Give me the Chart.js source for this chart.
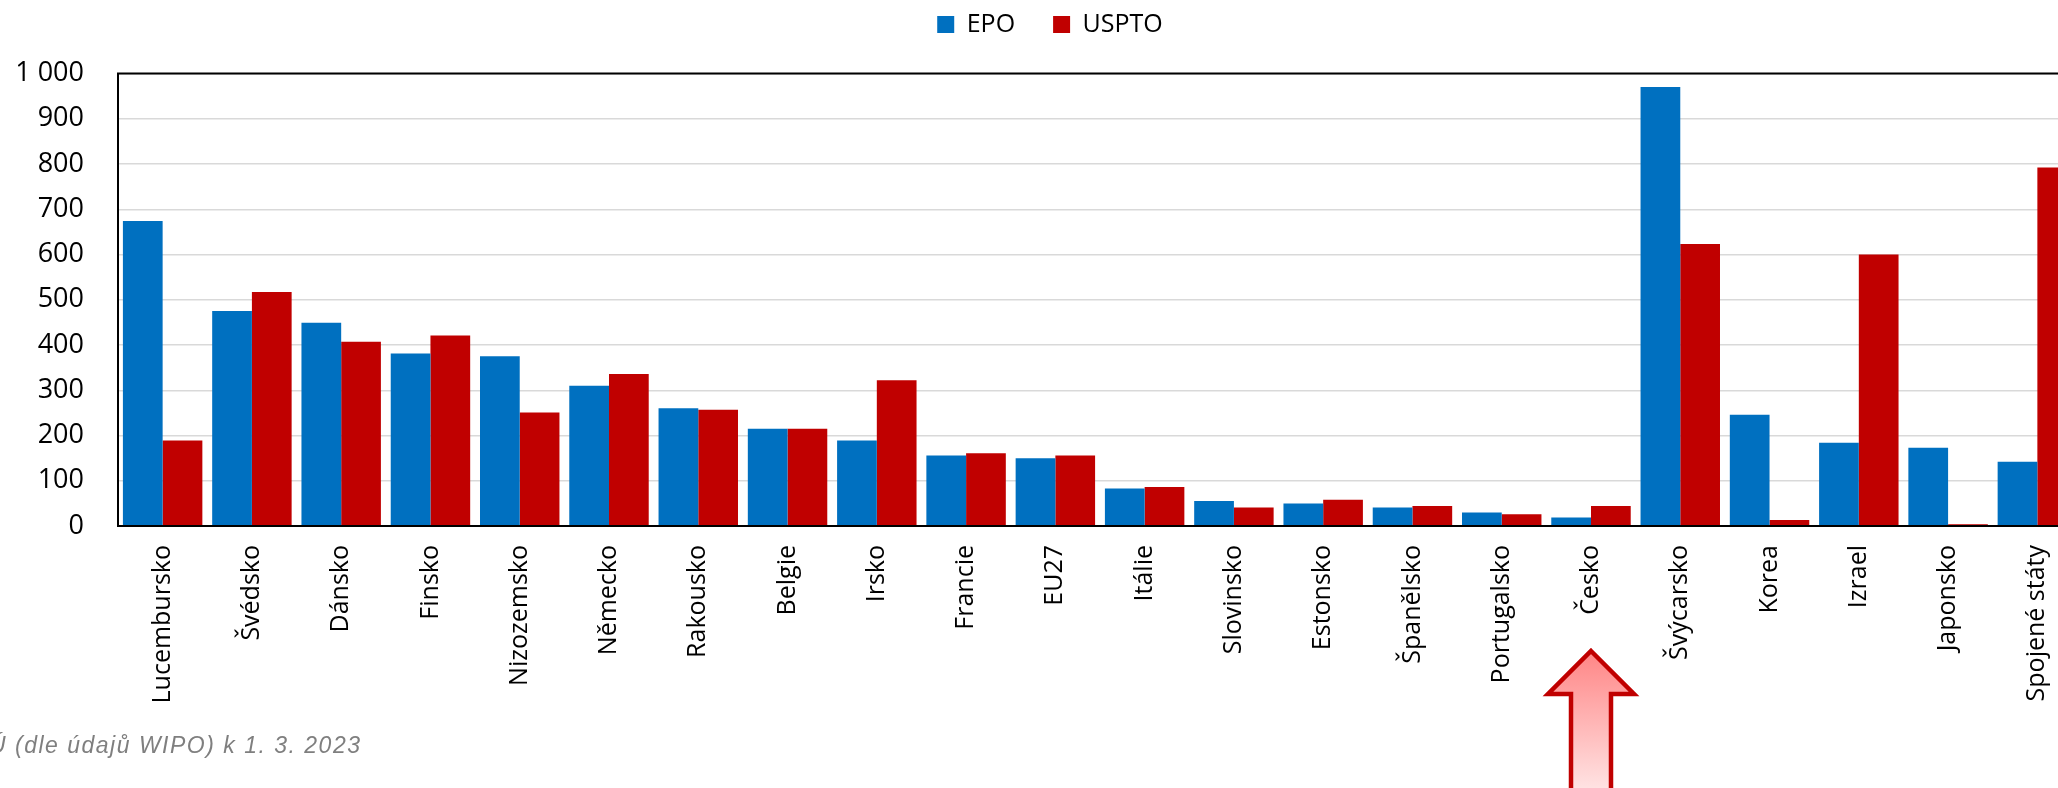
<!DOCTYPE html>
<html>
<head>
<meta charset="utf-8">
<script src="https://cdn.jsdelivr.net/npm/chart.js@4.4.0/dist/chart.umd.min.js"></script>
<style>
  html, body { margin: 0; padding: 0; width: 2058px; height: 788px; overflow: hidden; background: #fff; }
  #myChart { position: absolute; left: 0; top: 0; }
</style>
</head>
<body>
<canvas id="myChart" width="2098" height="788" style="width:2098px;height:788px"></canvas>
<script>
const countries = ['Lucembursko', 'Švédsko', 'Dánsko', 'Finsko', 'Nizozemsko', 'Německo', 'Rakousko', 'Belgie', 'Irsko', 'Francie', 'EU27', 'Itálie', 'Slovinsko', 'Estonsko', 'Španělsko', 'Portugalsko', 'Česko', 'Švýcarsko', 'Korea', 'Izrael', 'Japonsko', 'Spojené státy'];
const epo = [674, 475, 449, 381, 375, 310, 260, 215, 189, 156, 150, 83, 55, 50, 41, 30, 19, 970, 246, 184, 173, 142];
const uspto = [189, 517, 407, 421, 251, 336, 257, 215, 322, 161, 156, 86, 41, 58, 44, 26, 44, 623, 13, 600, 4, 792];
const yTicks = [0, 100, 200, 300, 400, 500, 600, 700, 800, 900, 1000];
const highlighted = 'Česko';
const sourceNote = 'Ú (dle údajů WIPO) k 1. 3. 2023';

Chart.defaults.font.family = '"Open Sans", "Noto Sans", sans-serif';
Chart.defaults.color = '#000';

// legend box gets a fixed height so the plot starts where it does in the picture
const legendHeight = {
  id: 'legendHeight',
  beforeInit(chart) {
    const fit = chart.legend.fit;
    chart.legend.fit = function () {
      fit.bind(chart.legend)();
      this.height = 99.5;
    };
  }
};

// frame round the plot, arrow under Česko, source line
const extras = {
  id: 'extras',
  afterDraw(chart) {
    const ctx = chart.ctx;
    const a = chart.chartArea;
    ctx.save();
    ctx.strokeStyle = '#000';
    ctx.lineWidth = 2;
    ctx.strokeRect(a.left, a.top, a.right - a.left, a.bottom - a.top);

    const x = chart.scales.x.getPixelForValue(countries.indexOf(highlighted));
    const tip = a.bottom + 125;
    const base = a.bottom + 168;
    const end = a.bottom + 300;
    const head = 43, shaft = 20;
    const grad = ctx.createLinearGradient(0, tip, 0, 788);
    grad.addColorStop(0, '#ff8585');
    grad.addColorStop(1, '#ffe2e2');
    ctx.beginPath();
    ctx.moveTo(x, tip);
    ctx.lineTo(x + head, base);
    ctx.lineTo(x + shaft, base);
    ctx.lineTo(x + shaft, end);
    ctx.lineTo(x - shaft, end);
    ctx.lineTo(x - shaft, base);
    ctx.lineTo(x - head, base);
    ctx.closePath();
    ctx.fillStyle = grad;
    ctx.fill();
    ctx.strokeStyle = '#c00000';
    ctx.lineWidth = 4.5;
    ctx.stroke();

    ctx.font = 'italic 23px "Liberation Sans", Arial, sans-serif';
    ctx.letterSpacing = '1.5px';
    ctx.fillStyle = '#7f7f7f';
    ctx.textAlign = 'left';
    ctx.textBaseline = 'alphabetic';
    ctx.fillText(sourceNote, -11, 753);
    ctx.restore();
  }
};

const myChart = new Chart(document.getElementById('myChart'), {
  type: 'bar',
  data: {
    labels: countries,
    datasets: [
      { label: 'EPO', data: epo, backgroundColor: '#0070c0' },
      { label: 'USPTO', data: uspto, backgroundColor: '#c00000' }
    ]
  },
  options: {
    responsive: false,
    animation: false,
    layout: { padding: { top: -26, right: 16, bottom: 0, left: 18 } },
    datasets: { bar: { categoryPercentage: 0.89, barPercentage: 1.0 } },
    plugins: {
      legend: {
        position: 'top',
        labels: { boxWidth: 17, boxHeight: 17, padding: 38, font: { size: 25 }, color: '#000' }
      },
      tooltip: { enabled: false }
    },
    scales: {
      x: {
        grid: { display: false, drawTicks: false },
        border: { display: true, color: '#000', width: 2 },
        ticks: { minRotation: 90, maxRotation: 90, autoSkip: false, padding: 19, font: { size: 25 }, color: '#000' },
        afterFit(scale) { scale.height = 262; }
      },
      y: {
        min: 0,
        max: 1000,
        afterBuildTicks(scale) { scale.ticks = yTicks.map(v => ({ value: v })); },
        grid: { color: '#d9d9d9', lineWidth: 1.5, drawTicks: false },
        border: { display: true, color: '#000', width: 2 },
        ticks: {
          padding: 34,
          font: { size: 27 },
          color: '#000',
          callback: v => String(v).replace(/\B(?=(\d{3})+(?!\d))/g, ' ')
        },
        afterFit(scale) { scale.width = 100; }
      }
    }
  },
  plugins: [legendHeight, extras]
});
</script>
</body>
</html>
